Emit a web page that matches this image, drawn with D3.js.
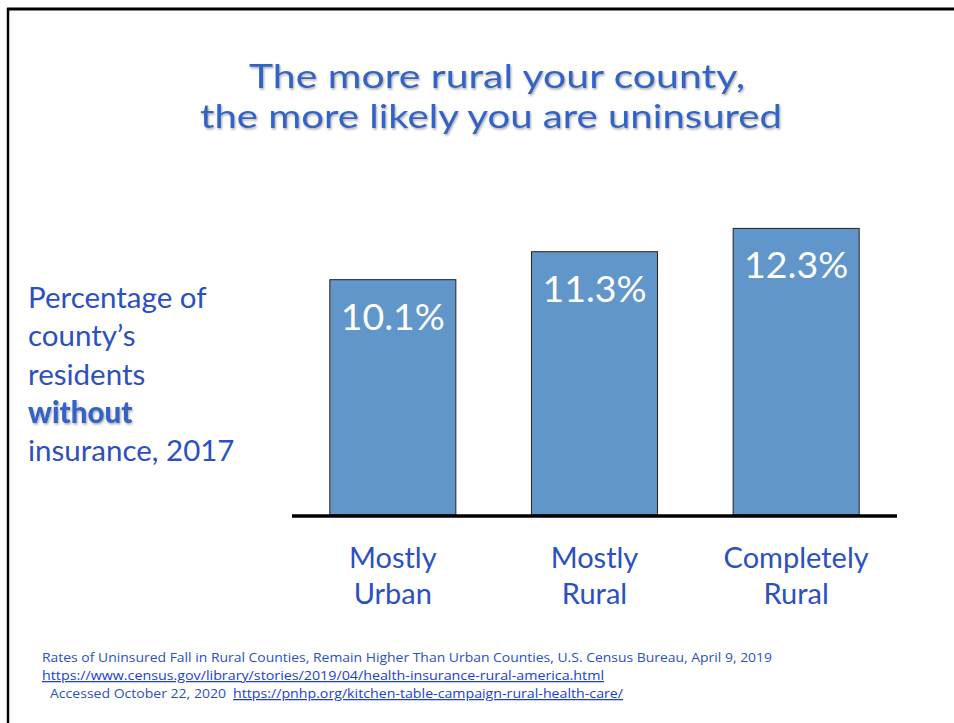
<!DOCTYPE html>
<html><head><meta charset="utf-8">
<script src="https://cdn.jsdelivr.net/npm/d3@7"></script>
<style>body{margin:0;background:#fff}svg{display:block}</style>
</head><body>
<script>
const categories = [["Mostly","Urban"],["Mostly","Rural"],["Completely","Rural"]];
const values = [10.1, 11.3, 12.3];
const valueLabels = ["10.1%","11.3%","12.3%"];
const titleLines = ["The more rural your county,","the more likely you are uninsured"];
const sideLines = ["Percentage of","county\u2019s","residents","without","insurance, 2017"];

const W=954,H=723;
const svg=d3.select("body").append("svg").attr("width",W).attr("height",H);
const defs=svg.append("defs");
const f=defs.append("filter").attr("id","sh").attr("x","-10%").attr("y","-20%").attr("width","130%").attr("height","150%");
f.append("feDropShadow").attr("dx",1).attr("dy",1.5).attr("stdDeviation",1).attr("flood-color","#000").attr("flood-opacity",0.35);

// frame
svg.append("line").attr("x1",7).attr("x2",W).attr("y1",9).attr("y2",9).attr("stroke","#000").attr("stroke-width",3);
svg.append("line").attr("x1",8).attr("x2",8).attr("y1",8).attr("y2",H).attr("stroke","#000").attr("stroke-width",2.5);

const font="Lato, 'Open Sans', sans-serif";
const blue="#2c50c0";
// title
const tl=[{t:titleLines[0],x0:249,x1:745,y:88},{t:titleLines[1],x0:200,x1:782,y:128}];
svg.append("g").selectAll("text").data(tl).join("text")
  .attr("x",d=>(d.x0+d.x1)/2).attr("y",d=>d.y).attr("text-anchor","middle")
  .attr("textLength",d=>d.x1-d.x0).attr("lengthAdjust","spacingAndGlyphs")
  .attr("font-family",font).attr("font-size",33).attr("fill","#3563c4").attr("filter","url(#sh)")
  .text(d=>d.t);

// scales
const x=d3.scaleBand().domain(d3.range(values.length)).range([292,897]).paddingInner(0.375).paddingOuter(0.1875);
const y=d3.scaleLinear().domain([0,14]).range([515,515-14*23.3]);

svg.append("g").selectAll("rect").data(values).join("rect")
  .attr("x",(d,i)=>x(i)).attr("y",d=>y(d)).attr("width",x.bandwidth()).attr("height",d=>y(0)-y(d))
  .attr("fill","#6096c9").attr("stroke","#222").attr("stroke-width",1);

svg.append("g").selectAll("text").data(values).join("text")
  .attr("x",(d,i)=>x(i)+x.bandwidth()/2).attr("y",d=>y(d)+50).attr("text-anchor","middle")
  .attr("font-family",font).attr("font-size",37.5).attr("fill","#fff")
  .text((d,i)=>valueLabels[i]);

// baseline
svg.append("line").attr("x1",292).attr("x2",897).attr("y1",y(0)+1).attr("y2",y(0)+1).attr("stroke","#000").attr("stroke-width",3.5);

// categories
const cg=svg.append("g").selectAll("text").data(categories).join("text")
  .attr("x",(d,i)=>x(i)+x.bandwidth()/2).attr("y",568).attr("text-anchor","middle")
  .attr("font-family",font).attr("font-size",29).attr("fill",blue);
cg.selectAll("tspan").data(d=>d).join("tspan").attr("x",function(){return this.parentNode.getAttribute("x");})
  .attr("dy",(d,j)=>j?36:0).text(d=>d);

// side label
svg.append("g").selectAll("text").data(sideLines).join("text")
  .attr("x",28).attr("y",(d,i)=>308+i*38.3)
  .attr("font-family",font).attr("font-size",29.5)
  .attr("font-weight",(d,i)=>i===3?"900":"normal")
  .attr("fill",(d,i)=>i===3?"#3563c4":blue)
  .attr("filter",(d,i)=>i===3?"url(#sh)":null)
  .text(d=>d);

// footer
const ff="'Open Sans', sans-serif";
const foot=svg.append("g").attr("font-family",ff).attr("font-size",12.5);
foot.append("text").attr("x",42).attr("y",662).attr("fill",blue)
  .attr("textLength",730).attr("lengthAdjust","spacingAndGlyphs")
  .text("Rates of Uninsured Fall in Rural Counties, Remain Higher Than Urban Counties, U.S. Census Bureau, April 9, 2019");
foot.append("text").attr("x",42).attr("y",680).attr("fill","#1a3cdc").attr("text-decoration","underline")
  .attr("textLength",562).attr("lengthAdjust","spacingAndGlyphs")
  .text("https://www.census.gov/library/stories/2019/04/health-insurance-rural-america.html");
foot.append("text").attr("x",50).attr("y",698).attr("fill",blue)
  .attr("textLength",176).attr("lengthAdjust","spacingAndGlyphs")
  .text("Accessed October 22, 2020");
foot.append("text").attr("x",233).attr("y",698).attr("fill","#1a3cdc").attr("text-decoration","underline")
  .attr("textLength",390).attr("lengthAdjust","spacingAndGlyphs")
  .text("https://pnhp.org/kitchen-table-campaign-rural-health-care/");
</script>
</body></html>
